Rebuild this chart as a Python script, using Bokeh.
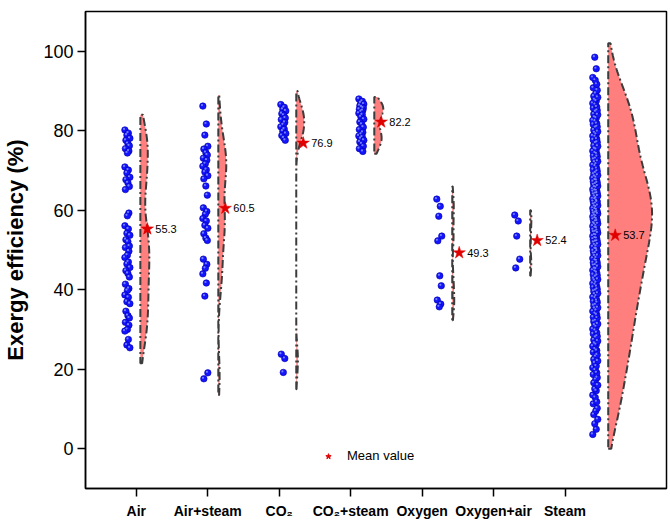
import numpy as np
from bokeh.plotting import figure
from bokeh.models import Range1d, FixedTicker, Legend, LegendItem, ColumnDataSource
from bokeh.core.properties import value
from bokeh.embed import file_html
from bokeh.resources import INLINE

# ---------------- data ----------------
categories = ["Air", "Air+steam", "CO\u2082", "CO\u2082+steam", "Oxygen", "Oxygen+air", "Steam"]
tick_pos = [1, 2, 3, 4, 5, 6, 7]
mean_values = [55.3, 60.5, 76.9, 82.2, 49.3, 52.4, 53.7]

air = [80.2, 79.4, 78.9, 78.1, 77.6, 76.8, 76.2, 75.5, 74.9, 74.4,
       70.9, 70.1, 69.4, 68.3, 67.7, 66.9, 66.0, 65.2,
       59.3, 58.6,
       56.1, 55.3, 54.2, 53.7, 52.6, 52.1, 51.0, 50.6,
       49.7, 48.7, 48.1, 47.0, 46.5, 45.6, 44.8, 44.1, 43.2,
       41.4, 40.3, 39.8, 38.7, 38.1, 37.0, 36.5,
       34.6, 33.5, 32.9, 31.8, 31.1, 30.0, 29.6,
       27.5, 26.1, 25.4]
air_steam = [86.2, 81.7, 78.9, 76.1, 75.4, 74.5, 73.9, 73.1, 72.6, 71.7, 71.1, 70.2,
             69.6, 68.7, 67.9, 66.1, 63.8, 60.6, 59.7, 59.0, 57.9, 57.3, 56.2, 55.5,
             54.1, 53.0, 52.4, 47.7, 46.4, 45.4, 44.0, 41.7, 38.4, 19.1, 17.6]
co2 = [86.6, 85.9, 85.4, 85.0, 84.3, 83.9, 83.2, 82.8, 82.1, 81.5, 81.0, 80.4,
       79.9, 79.3, 78.8, 78.2, 77.6, 23.8, 22.7, 19.2]
co2_steam = [88.0, 87.4, 87.0, 86.7, 86.3, 86.0, 85.7, 85.4, 85.1, 84.8, 84.4, 84.0,
             83.5, 82.9, 82.2, 81.6, 80.9, 80.3, 79.6, 79.1, 78.7, 78.4, 78.0, 77.6,
             77.2, 76.7, 76.1, 75.5, 74.8]
oxygen = [62.8, 61.0, 58.5, 53.5, 52.3, 43.5, 41.0, 37.4, 36.4, 35.7]
oxygen_air = [58.8, 57.3, 53.5, 47.7, 45.5]
steam = [3.6, 4.9,
         6.3, 7.4, 8.6, 9.5,
         10.2, 11.3, 11.8, 12.9, 13.5, 14.6,
         15.1, 16.0, 16.6, 17.4, 17.9, 18.7, 19.1, 19.8,
         20.4, 20.8, 21.6, 22.1, 22.5, 23.2, 23.6, 24.3, 24.7,
         25.1, 25.8, 26.2, 26.5, 27.1, 27.4, 28.0, 28.3, 28.9, 29.2, 29.8,
         30.1, 30.7, 31.1, 31.4, 32.0, 32.2, 32.9, 33.1, 33.7, 34.0, 34.6, 34.8,
         35.3, 35.5, 36.0, 36.2, 36.8, 37.1, 37.3, 37.9, 38.2, 38.4, 38.9, 39.1, 39.6, 39.8,
         40.1, 40.6, 40.8, 41.3, 41.6, 41.8, 42.3, 42.6, 42.8, 43.3, 43.6, 43.8, 44.3, 44.6, 44.9,
         45.2, 45.3, 45.8, 46.1, 46.2, 46.7, 46.8, 47.3, 47.4, 47.9, 48.0, 48.5, 48.6, 49.1, 49.2, 49.7, 49.8,
         50.2, 50.3, 50.8, 50.9, 51.3, 51.4, 51.9, 52.1, 52.2, 52.7, 52.9, 53.0, 53.5, 53.7, 53.8, 54.3, 54.5, 54.6, 54.9,
         55.1, 55.5, 55.6, 56.0, 56.1, 56.5, 56.6, 56.8, 57.2, 57.3, 57.7, 57.8, 58.0, 58.4, 58.5, 58.7, 59.1, 59.2, 59.4, 59.6, 59.8,
         60.1, 60.3, 60.5, 60.8, 61.0, 61.2, 61.5, 61.7, 62.1, 62.2, 62.4, 62.8, 62.9, 63.1, 63.5, 63.6, 64.0, 64.2, 64.3, 64.7, 64.9,
         65.0, 65.3, 65.7, 65.8, 66.1, 66.4, 66.6, 66.9, 67.2, 67.5, 67.6, 68.1, 68.2, 68.5, 68.8, 69.1, 69.4, 69.8,
         70.2, 70.5, 71.1, 71.4, 71.6, 72.1, 72.3, 72.8, 73.0, 73.5, 73.7, 74.2, 74.4, 74.9,
         75.3, 75.5, 76.1, 76.3, 76.9, 77.1, 77.7, 77.9, 78.5, 78.7, 79.1, 79.5, 79.8,
         80.2, 80.8, 81.0, 81.6, 81.8, 82.4, 82.6, 83.2, 83.4, 84.0, 84.2, 84.8,
         85.1, 85.7, 86.0, 86.6, 86.9, 87.5, 87.8, 88.4, 88.7, 89.4,
         90.2, 90.8, 91.7, 92.7, 93.4,
         95.6, 98.5]
groups = [air, air_steam, co2, co2_steam, oxygen, oxygen_air, steam]

# violin extents
violin_lo = [21.5, 13.5, 15.0, 74.2, 32.3, 43.5, 0.0]
violin_hi = [84.0, 89.0, 90.0, 88.5, 66.0, 60.0, 102.0]

# ---------------- layout / style ----------------
group_pos = [0.875, 1.966, 3.057, 4.149, 5.240, 6.331, 7.423]   # dot column centres
PX = 1.0 / 71.7                      # x units per screen pixel
violin_gap_px = 13
violin_max_w_px = [9, 8, 8, 9, 2, 1.2, 44]
violin_bw = [5.0, 5.0, 3.0, 1.4, 3.0, 2.0, 6.0]
jitter_px = [-2.5, 1.0, -0.5, 2.5, -1.5, 0.5, 2.0, -2.0, 1.5, 0.0]
FONT = "Liberation Sans"

p = figure(width=670, height=522,
           x_range=Range1d(0.2887, 8.42), y_range=Range1d(-10, 110),
           output_backend="svg", toolbar_location=None,
           min_border_left=83, min_border_right=4, min_border_top=11, min_border_bottom=34)
p.xgrid.visible = False
p.ygrid.visible = False
p.outline_line_color = "black"
p.outline_line_width = 1.5
p.background_fill_color = "white"
p.border_fill_color = "white"

# violins
for i, vals in enumerate(groups):
    v = np.array(vals, dtype=float)
    base = group_pos[i] + violin_gap_px * PX
    grid = np.linspace(violin_lo[i], violin_hi[i], 200)
    dens = np.exp(-0.5 * ((grid[:, None] - v[None, :]) / violin_bw[i]) ** 2).sum(axis=1)
    dens = dens / dens.max()
    xs = [base] + list(base + dens * violin_max_w_px[i] * PX) + [base]
    ys = [violin_lo[i]] + list(grid) + [violin_hi[i]]
    p.patch(xs, ys, fill_color="#FF7F7F", fill_alpha=1.0,
            line_color="#3c3c3c", line_width=2, line_dash="8 3 2 3")

# dots
dx, dy = [], []
for i, vals in enumerate(groups):
    for k, val in enumerate(vals):
        dx.append(group_pos[i] + jitter_px[k % len(jitter_px)] * PX)
        dy.append(val)
p.scatter(dx, dy, size=6.5, marker="circle", fill_color="#1414ff",
          line_color="#0000aa", line_width=0.6)
p.scatter([x - 0.9 * PX for x in dx], [y + 0.25 for y in dy], size=2.2, marker="circle",
          fill_color="#8c9cff", line_color=None, fill_alpha=0.8)

# mean stars and labels
star_x = [g + (violin_gap_px + 7) * PX for g in group_pos]
# small legend proxy star, hidden underneath the first mean star
leg_r = p.scatter(star_x[:1], mean_values[:1], marker="star", size=10,
                  fill_color="#e00000", line_color="#e00000")
p.scatter(star_x, mean_values, marker="star", size=13, fill_color="#e00000",
          line_color="#e00000", line_width=0.5)
src = ColumnDataSource(dict(x=star_x, y=mean_values, t=[f"{m:.1f}" for m in mean_values]))
p.text(x="x", y="y", text="t", source=src, x_offset=8, text_baseline="middle",
       text_align="left", text_font_size="11px", text_font=value(FONT), text_color="black")

legend = Legend(items=[LegendItem(label="Mean value", renderers=[leg_r])],
                location=(236, 25), border_line_color=None, background_fill_alpha=0,
                glyph_width=14, glyph_height=14, label_standoff=12, padding=0, margin=0,
                label_text_font_size="13px", label_text_font=FONT, label_height=14,
                label_text_color="black")
p.add_layout(legend)

# axes
p.xaxis.ticker = FixedTicker(ticks=tick_pos)
p.xaxis.major_label_overrides = {t: c for t, c in zip(tick_pos, categories)}
p.xaxis.major_label_text_font = FONT
p.xaxis.major_label_text_font_style = "bold"
p.xaxis.major_label_text_font_size = "14px"
p.xaxis.major_label_standoff = 6
p.yaxis.ticker = FixedTicker(ticks=[0, 20, 40, 60, 80, 100])
p.yaxis.major_label_text_font = FONT
p.yaxis.major_label_text_font_size = "18px"
p.yaxis.major_label_standoff = 4
p.yaxis.axis_label = "Exergy efficiency (%)"
p.yaxis.axis_label_text_font = FONT
p.yaxis.axis_label_text_font_style = "bold"
p.yaxis.axis_label_text_font_size = "22px"
p.yaxis.axis_label_standoff = 12
for ax in (p.xaxis, p.yaxis):
    ax.axis_line_width = 1.5
    ax.major_tick_line_width = 1.5
    ax.major_tick_out = 8
    ax.major_tick_in = 0
    ax.minor_tick_line_color = None
    ax.major_label_text_color = "black"
    ax.axis_label_text_color = "black"
    ax.axis_line_color = "black"
    ax.major_tick_line_color = "black"

open("out.html", "w").write(file_html(p, INLINE))
